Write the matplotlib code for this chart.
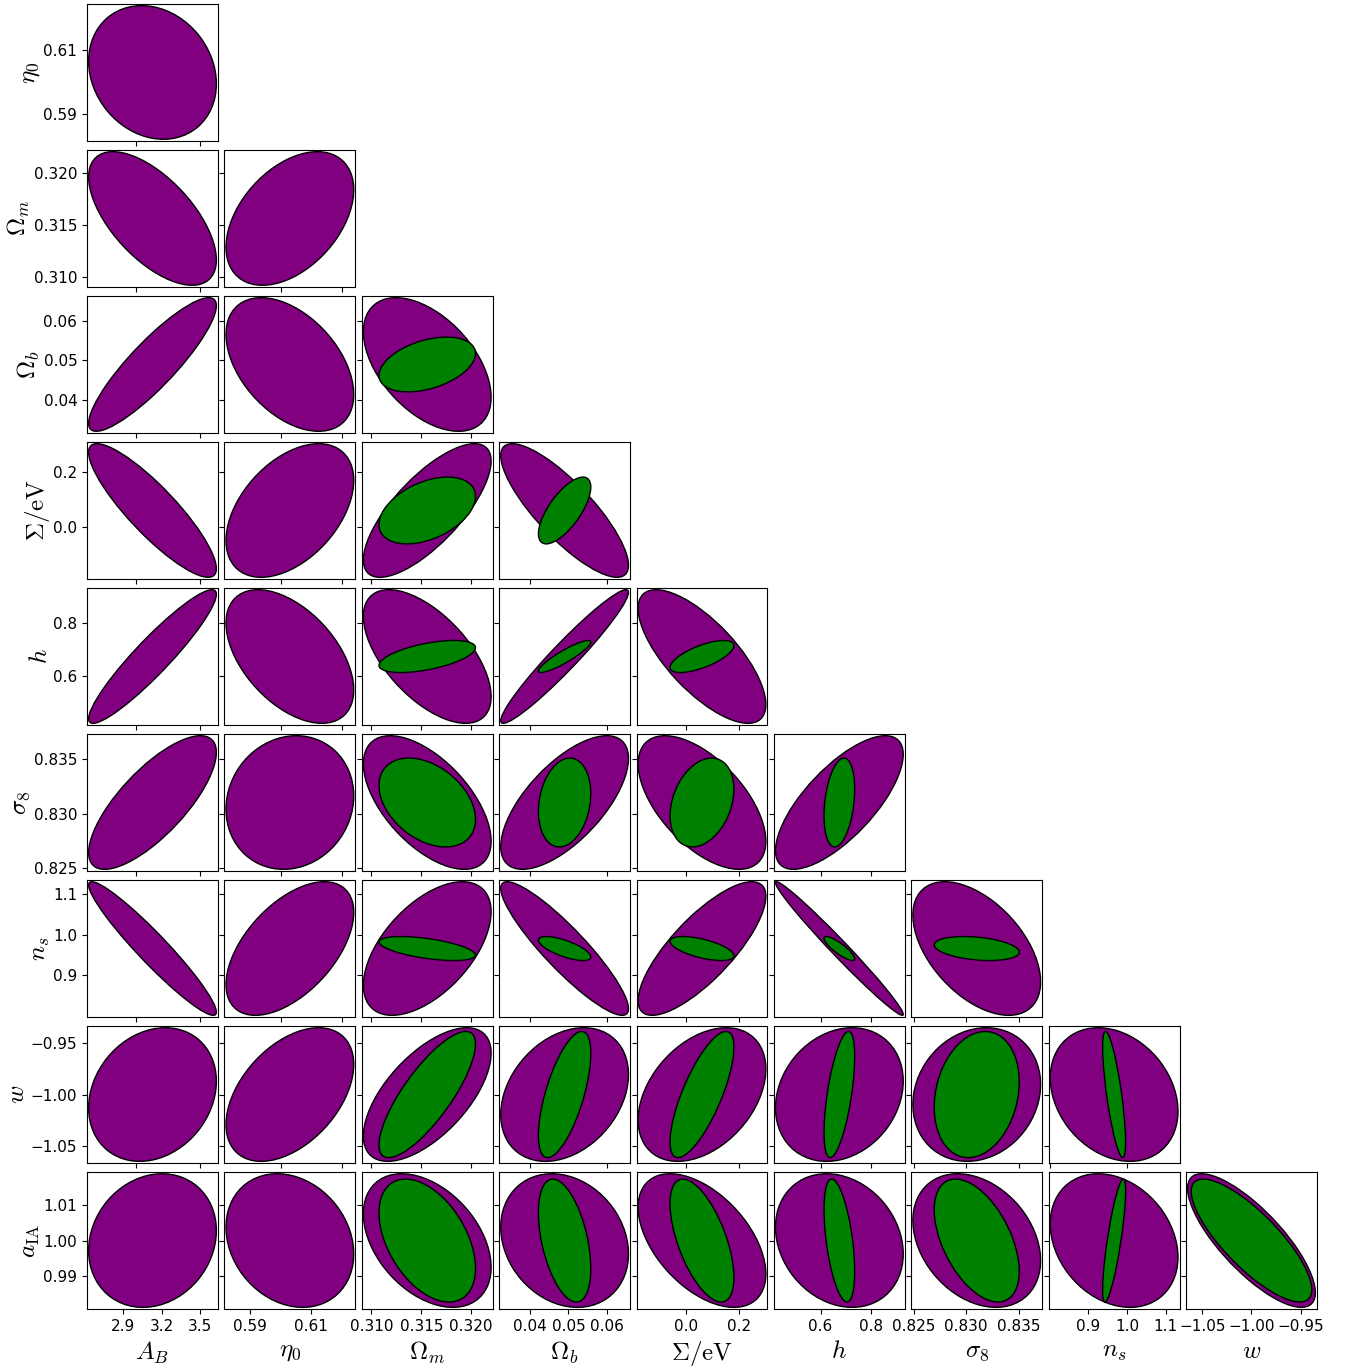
import numpy as np
import matplotlib
matplotlib.use("Agg")
import matplotlib.pyplot as plt
from matplotlib.patches import Ellipse
from matplotlib.ticker import MaxNLocator, FixedLocator

plt.rcParams["mathtext.fontset"] = "cm"

# Parámetros (orden del triángulo)
nombres = [r"$A_B$", r"$\eta_0$", r"$\Omega_m$", r"$\Omega_b$", r"$\Sigma/{\rm eV}$",
           r"$h$", r"$\sigma_8$", r"$n_s$", r"$w$", r"$a_{\rm IA}$"]
fiducial = [3.13, 0.603, 0.3156, 0.049, 0.06, 0.674, 0.831, 0.9665, -1.0, 1.0]
sigma_morado = [0.326, 0.0138, 0.00421, 0.0110, 0.158, 0.165, 0.0040, 0.1086, 0.0428, 0.01235]
ticks = [[2.9, 3.2, 3.5], [0.59, 0.61], [0.310, 0.315, 0.320], [0.04, 0.05, 0.06],
         [0.0, 0.2], [0.6, 0.8], [0.825, 0.830, 0.835], [0.9, 1.0, 1.1],
         [-1.05, -1.00, -0.95], [0.99, 1.00, 1.01]]

# Correlaciones (triángulo inferior), contorno morado
rho_morado = [
    [],
    [-0.17],
    [-0.62, 0.43],
    [0.88, -0.45, -0.49],
    [-0.87, 0.45, 0.74, -0.82],
    [0.93, -0.50, -0.60, 0.96, -0.72],
    [0.75, 0.10, -0.58, 0.66, -0.58, 0.72],
    [-0.95, 0.54, 0.55, -0.90, 0.78, -0.985, -0.50],
    [0.20, 0.45, 0.62, 0.30, 0.38, 0.20, 0.15, -0.25],
    [0.15, -0.20, -0.40, -0.20, -0.50, -0.20, -0.30, -0.25, -0.78],
]

# Contorno verde: solo parámetros cosmológicos (índices 2..9)
idx_verde = [2, 3, 4, 5, 6, 7, 8, 9]
sigma_verde = [0.00318, 0.00451, 0.079, 0.0396, 0.00266, 0.0195, 0.0404, 0.01136]
rho_verde = [
    [],
    [0.40],
    [0.42, 0.70],
    [0.55, 0.90, 0.68],
    [-0.38, 0.20, 0.30, 0.30],
    [-0.55, -0.70, -0.60, -0.85, -0.30],
    [0.80, 0.65, 0.75, 0.60, 0.20, -0.75],
    [-0.45, -0.45, -0.60, -0.50, -0.50, 0.80, -0.80],
]

alfa = 1.52  # 68% en 2D
margen = 1.025


def elipse(ax, mx, my, sx, sy, rho, color):
    cov = np.array([[sx**2, rho*sx*sy], [rho*sx*sy, sy**2]])
    vals, vecs = np.linalg.eigh(cov)
    ang = np.degrees(np.arctan2(vecs[1, 1], vecs[0, 1]))
    ancho = 2*alfa*np.sqrt(vals[1])
    alto = 2*alfa*np.sqrt(vals[0])
    ax.add_patch(Ellipse((mx, my), ancho, alto, angle=ang, facecolor=color,
                         edgecolor="black", lw=1))


n = len(nombres)
fig = plt.figure(figsize=(13.47, 13.69), dpi=100)
gs = fig.add_gridspec(n-1, n-1, left=0.0646, right=0.9777, top=0.9971, bottom=0.0438,
                      wspace=0.049, hspace=0.066)

for i in range(1, n):
    for j in range(i):
        ax = fig.add_subplot(gs[i-1, j])
        mx, my = fiducial[j], fiducial[i]
        sx, sy = sigma_morado[j], sigma_morado[i]
        elipse(ax, mx, my, sx, sy, rho_morado[i][j], "purple")
        if i in idx_verde and j in idx_verde:
            a, b = idx_verde.index(j), idx_verde.index(i)
            elipse(ax, mx, my, sigma_verde[a], sigma_verde[b], rho_verde[b][a], "green")
        ax.set_xlim(mx - margen*alfa*sx, mx + margen*alfa*sx)
        ax.set_ylim(my - margen*alfa*sy, my + margen*alfa*sy)
        ax.yaxis.set_major_locator(FixedLocator(ticks[i]))
        if i == n-1:
            ax.xaxis.set_major_locator(FixedLocator(ticks[j]))
            ax.set_xlabel(nombres[j], fontsize=18)
        else:
            ax.xaxis.set_major_locator(MaxNLocator(nbins=3, steps=[1, 2, 2.5, 5, 10]))
            ax.set_xticklabels([])
        if j == 0:
            ax.set_ylabel(nombres[i], fontsize=18, labelpad=1)
        else:
            ax.set_yticklabels([])
        ax.tick_params(labelsize=11)

fig.savefig("out.png", dpi=100)
